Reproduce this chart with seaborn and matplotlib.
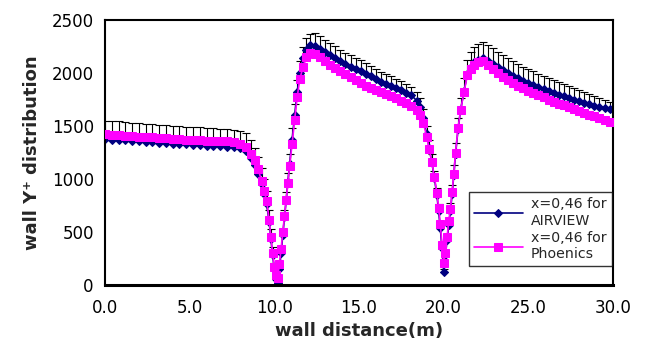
import numpy as np
import pandas as pd
import matplotlib
matplotlib.use('Agg')
import matplotlib.pyplot as plt
import seaborn as sns

# data
wall_x = [0.0, 0.4, 0.8, 1.2, 1.6, 2.0, 2.4, 2.8, 3.2, 3.6, 4.0, 4.4, 4.8, 5.2, 5.6, 6.0, 6.4, 6.8, 7.2, 7.6, 8.0,
          8.3, 8.6, 8.85, 9.05, 9.25, 9.4, 9.55, 9.7, 9.8, 9.9, 10.0, 10.1, 10.2,
          10.3, 10.4, 10.5, 10.6, 10.7, 10.8, 10.9, 11.05, 11.2, 11.35, 11.5, 11.7, 11.9, 12.1,
          12.4, 12.7, 13.0, 13.3, 13.6, 13.9, 14.2, 14.5, 14.8, 15.1, 15.4, 15.7, 16.0, 16.3, 16.6, 16.9, 17.2, 17.5, 17.8, 18.1, 18.4,
          18.6, 18.8, 19.0, 19.15, 19.3, 19.45, 19.6, 19.7, 19.8, 19.9, 20.0,
          20.1, 20.2, 20.3, 20.4, 20.5, 20.6, 20.7, 20.85, 21.0, 21.2, 21.4, 21.6, 21.8, 22.0,
          22.3, 22.6, 22.9, 23.2, 23.5, 23.8, 24.1, 24.4, 24.7, 25.0, 25.3, 25.6, 25.9, 26.2, 26.5, 26.8, 27.1, 27.4, 27.7, 28.0,
          28.3, 28.6, 28.9, 29.2, 29.5, 29.8]

airview = [1375, 1372, 1368, 1364, 1360, 1355, 1350, 1346, 1342, 1338, 1334, 1330, 1326, 1322, 1319, 1316, 1313, 1310, 1306, 1300, 1290,
           1260, 1200, 1130, 1050, 950, 860, 760, 590, 430, 280, 150, 60, 20,
           150, 300, 470, 640, 800, 970, 1140, 1370, 1600, 1820, 2000, 2140, 2220, 2260,
           2255, 2230, 2200, 2170, 2140, 2110, 2085, 2060, 2040, 2020, 1995, 1970, 1945, 1920, 1900, 1880, 1860, 1840, 1815, 1790, 1740,
           1680, 1580, 1420, 1290, 1160, 1010, 850, 700, 540, 350, 125,
           280, 420, 570, 700, 860, 1040, 1240, 1470, 1650, 1830, 1990, 2060, 2100, 2120,
           2140, 2115, 2085, 2055, 2025, 2000, 1975, 1950, 1925, 1905, 1885, 1865, 1848, 1830, 1812, 1795, 1780, 1765, 1750, 1735,
           1720, 1705, 1692, 1680, 1672, 1665]

airview_err = [175, 175, 175, 174, 173, 172, 172, 171, 170, 170, 170, 169, 168, 168, 167, 167, 166, 166, 165, 165, 165,
               170, 170, 165, 160, 150, 140, 130, 120, 100, 80, 60, 40, 20,
               20, 40, 60, 70, 80, 90, 100, 110, 110, 110, 110, 110, 110, 110,
               120, 118, 116, 114, 112, 110, 108, 106, 104, 102, 100, 98, 96, 94, 92, 90, 88, 86, 84, 82, 80,
               80, 80, 80, 80, 75, 70, 65, 60, 50, 40, 30,
               30, 50, 60, 70, 80, 90, 100, 110, 110, 120, 130, 140, 150, 150,
               150, 150, 148, 146, 144, 142, 140, 138, 136, 134, 132, 130, 128, 126, 124, 120, 116, 112, 108, 104,
               100, 95, 90, 80, 70, 60]

phoenics = [1420, 1418, 1414, 1410, 1405, 1400, 1396, 1392, 1388, 1384, 1380, 1376, 1372, 1368, 1365, 1362, 1360, 1357, 1354, 1348, 1335,
            1300, 1240, 1175, 1090, 980, 890, 790, 610, 450, 300, 170, 90, 70,
            200, 340, 500, 650, 800, 960, 1120, 1330, 1560, 1770, 1940, 2060, 2150, 2190,
            2180, 2150, 2115, 2080, 2050, 2020, 1990, 1960, 1930, 1905, 1880, 1860, 1840, 1820, 1800, 1780, 1760, 1740, 1715, 1690, 1650,
            1600, 1530, 1400, 1280, 1160, 1020, 870, 730, 580, 380, 210,
            300, 450, 600, 720, 880, 1050, 1250, 1480, 1650, 1820, 1980, 2040, 2080, 2100,
            2110, 2080, 2040, 2000, 1965, 1935, 1905, 1880, 1855, 1830, 1810, 1790, 1770, 1750, 1730, 1712, 1695, 1678, 1660, 1643,
            1625, 1608, 1590, 1572, 1555, 1540]

x_ticks = [0, 5, 10, 15, 20, 25, 30]
y_ticks = [0, 500, 1000, 1500, 2000, 2500]

df = pd.DataFrame({'x': wall_x, 'AIRVIEW': airview, 'Phoenics': phoenics, 'err': airview_err})

sns.set_style('white')
plt.rcParams['font.family'] = ['DejaVu Sans']

fig = plt.figure(figsize=(6.48, 3.58), dpi=100)
ax = fig.add_axes([0.162, 0.204, 0.784, 0.74])

# error bars (upper only) for AIRVIEW
ax.errorbar(df['x'], df['AIRVIEW'], yerr=[np.zeros(len(df)), df['err']], fmt='none',
            ecolor='black', elinewidth=0.8, capsize=3.2, capthick=0.8, zorder=1)

sns.lineplot(data=df, x='x', y='AIRVIEW', ax=ax, color='#000080', marker='D', markersize=4.5,
             markeredgecolor='#000080', linewidth=1.2, label='x=0,46 for\nAIRVIEW', zorder=2)
sns.lineplot(data=df, x='x', y='Phoenics', ax=ax, color='#FF00FF', marker='s', markersize=5.8,
             markeredgecolor='#FF00FF', linewidth=1.2, label='x=0,46 for\nPhoenics', zorder=3)

ax.set_xlim(0, 30)
ax.set_ylim(0, 2500)
ax.set_xticks(x_ticks)
ax.set_xticklabels([f'{t:.1f}' for t in x_ticks])
ax.set_yticks(y_ticks)
ax.tick_params(direction='in', length=5, width=1, labelsize=12, colors='black', pad=8)
ax.tick_params(axis='x', pad=10)

for s in ax.spines.values():
    s.set_color('black')
    s.set_linewidth(1.5)
ax.spines['bottom'].set_linewidth(2.2)

ax.set_xlabel('wall distance(m)', fontsize=13, fontweight='bold', labelpad=4)
ax.set_ylabel('wall Y\u207a distribution', fontsize=13, fontweight='bold', labelpad=8)

leg = ax.legend(loc='lower right', bbox_to_anchor=(1.0, 0.065), borderaxespad=0.1, fontsize=10.2,
                frameon=True, fancybox=False, edgecolor='black', handlelength=3.4, handletextpad=0.6,
                borderpad=0.35, labelspacing=0.25)
leg.get_frame().set_linewidth(1.0)

fig.savefig('out.png', dpi=100)
